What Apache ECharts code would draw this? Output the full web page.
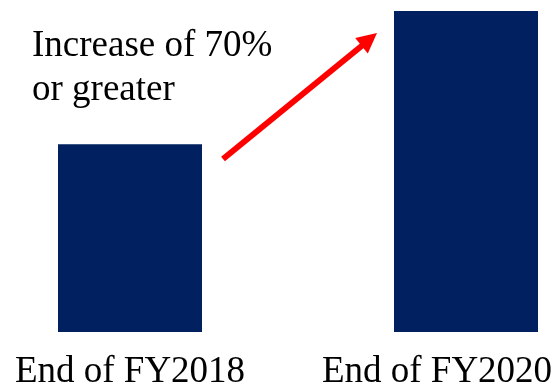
<!DOCTYPE html>
<html>
<head>
<meta charset="utf-8">
<script src="https://cdn.jsdelivr.net/npm/echarts@6/dist/echarts.min.js"></script>
<style>
html,body{margin:0;padding:0;background:#fff;}
#chart{width:552px;height:385px;}
</style>
</head>
<body>
<div id="chart"></div>
<script>
const categories = ['End of FY2018', 'End of FY2020'];
const values = [100, 171];
const annotationLines = ['Increase of 70%', 'or greater'];

const FONT = '"Liberation Serif", "Times New Roman", serif';
const chart = echarts.init(document.getElementById('chart'), null, {renderer: 'canvas'});

const catData = categories.map((c, i) => i === 1
  ? {value: c, textStyle: {padding: [0, 58, 0, 0]}}
  : {value: c});

chart.setOption({
  animation: false,
  backgroundColor: '#ffffff',
  grid: {left: 130, right: 86, top: 11, bottom: 53, containLabel: false, outerBoundsMode: 'none'},
  xAxis: {
    type: 'category',
    data: catData,
    boundaryGap: false,
    axisLine: {show: false},
    axisTick: {show: false},
    splitLine: {show: false},
    axisLabel: {
      show: true,
      interval: 0,
      margin: 22,
      hideOverlap: false,
      color: '#000000',
      fontFamily: FONT,
      fontSize: 37
    }
  },
  yAxis: {
    type: 'value',
    min: 0,
    max: 171,
    show: false,
    splitLine: {show: false}
  },
  series: [{
    type: 'bar',
    data: values,
    barWidth: 144,
    clip: false,
    itemStyle: {color: '#002060'}
  }],
  graphic: [
    {
      type: 'text',
      left: 32,
      top: 24,
      z: 100,
      style: {
        text: annotationLines.join('\n'),
        font: '37px ' + FONT,
        lineHeight: 44,
        fill: '#000000'
      }
    },
    {
      type: 'line',
      z: 100,
      shape: {x1: 223, y1: 159, x2: 364, y2: 44},
      style: {stroke: '#ff0000', lineWidth: 6}
    },
    {
      type: 'polygon',
      z: 100,
      shape: {points: [[377, 33], [367.8, 53.4], [355.2, 38.0]]},
      style: {fill: '#ff0000'}
    }
  ]
});
</script>
</body>
</html>
